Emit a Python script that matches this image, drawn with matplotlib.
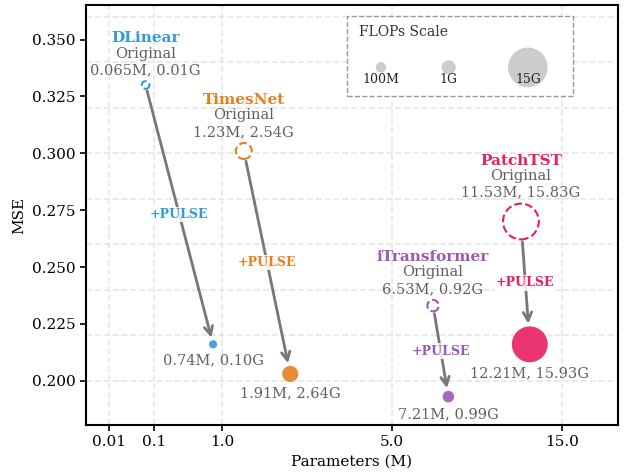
import matplotlib
matplotlib.use('Agg')
import matplotlib.pyplot as plt
from matplotlib.patches import Rectangle
import numpy as np

plt.rcParams['font.family'] = ['DejaVu Serif']

# data
models = ['DLinear', 'TimesNet', 'iTransformer', 'PatchTST']
colors = ['#3498db', '#e67e22', '#9b59b6', '#e91e63']

orig_params = [0.065, 1.23, 6.53, 11.53]
orig_flops = [0.01, 2.54, 0.92, 15.83]
orig_mse = [0.330, 0.301, 0.233, 0.270]

pulse_params = [0.74, 1.91, 7.21, 12.21]
pulse_flops = [0.10, 2.64, 0.99, 15.93]
pulse_mse = [0.216, 0.203, 0.193, 0.216]

x_ticks = [0.01, 0.1, 1.0, 5.0, 15.0]
x_tick_labels = ['0.01', '0.1', '1.0', '5.0', '15.0']
y_ticks = [0.200, 0.225, 0.250, 0.275, 0.300, 0.325, 0.350]

legend_flops = [0.1, 1, 15]
legend_labels = ['100M', '1G', '15G']

# piecewise log axis: each tick interval is log-spaced, intervals have custom widths
tick_pos = np.array([0, 1, 2.5, 6.25, 10])
log_ticks = np.log10(x_ticks)


def fwd(x):
    x = np.asarray(x, dtype=float)
    lx = np.log10(np.clip(x, 1e-9, None))
    y = np.interp(lx, log_ticks, tick_pos)
    s0 = (tick_pos[1] - tick_pos[0]) / (log_ticks[1] - log_ticks[0])
    s1 = (tick_pos[-1] - tick_pos[-2]) / (log_ticks[-1] - log_ticks[-2])
    y = np.where(lx < log_ticks[0], tick_pos[0] + (lx - log_ticks[0]) * s0, y)
    y = np.where(lx > log_ticks[-1], tick_pos[-1] + (lx - log_ticks[-1]) * s1, y)
    return y


def inv(y):
    y = np.asarray(y, dtype=float)
    lx = np.interp(y, tick_pos, log_ticks)
    s0 = (log_ticks[1] - log_ticks[0]) / (tick_pos[1] - tick_pos[0])
    s1 = (log_ticks[-1] - log_ticks[-2]) / (tick_pos[-1] - tick_pos[-2])
    lx = np.where(y < tick_pos[0], log_ticks[0] + (y - tick_pos[0]) * s0, lx)
    lx = np.where(y > tick_pos[-1], log_ticks[-1] + (y - tick_pos[-1]) * s1, lx)
    return 10 ** lx


def msize(flops):
    return 30 + 40 * np.asarray(flops)


fig = plt.figure(figsize=(6.24, 4.76), dpi=100)
ax = fig.add_axes([0.138, 0.107, 0.852, 0.882])
ax.set_xscale('function', functions=(fwd, inv))
ax.set_xlim(float(inv(-0.5)), float(inv(11.24)))
ax.set_ylim(0.1805, 0.3651)

# grid
ax.set_xticks(x_ticks)
ax.set_xticklabels(x_tick_labels)
ax.minorticks_off()
ax.xaxis.grid(True, linestyle='--', color='#e6e6e6', linewidth=1.2, zorder=0)
for yv in np.arange(0.18, 0.3601, 0.02):
    ax.axhline(yv, linestyle='--', color='#e6e6e6', linewidth=1.2, zorder=0)
ax.set_yticks(y_ticks)
ax.set_yticklabels([f'{v:.3f}' for v in y_ticks])
ax.set_axisbelow(True)

gray_txt = '#606060'
for i, name in enumerate(models):
    c = colors[i]
    s_o = msize(orig_flops[i])
    s_p = msize(pulse_flops[i])
    r_o = np.sqrt(s_o) / 2 + 0.75
    r_p = np.sqrt(s_p) / 2

    ax.scatter(orig_params[i], orig_mse[i], s=s_o, facecolors='white', edgecolors=c,
               linestyles='--', linewidths=1.5, zorder=4)
    ax.scatter(pulse_params[i], pulse_mse[i], s=s_p, color=c, alpha=0.9,
               edgecolors='none', zorder=4)

    ax.annotate('', xy=(pulse_params[i], pulse_mse[i]),
                xytext=(orig_params[i], orig_mse[i]),
                arrowprops=dict(arrowstyle='->', color='#777777', lw=2,
                                shrinkA=r_o + 1, shrinkB=r_p + 2, mutation_scale=15),
                zorder=3)

    # midpoint label
    xm = float(inv((fwd(orig_params[i]) + fwd(pulse_params[i])) / 2))
    ym = (orig_mse[i] + pulse_mse[i]) / 2
    ax.text(xm, ym, '+PULSE', color=c, fontsize=9, fontweight='bold',
            ha='center', va='center', zorder=5,
            bbox=dict(boxstyle='square,pad=0.1', fc='white', ec='none', alpha=0.85))

    # labels above original
    base = r_o + 7.2
    ax.annotate(f'{orig_params[i]:g}M, {orig_flops[i]:.2f}G', (orig_params[i], orig_mse[i]),
                xytext=(0, base), textcoords='offset points', ha='center', va='center',
                fontsize=10.5, color=gray_txt, zorder=5)
    ax.annotate('Original', (orig_params[i], orig_mse[i]),
                xytext=(0, base + 11.9), textcoords='offset points', ha='center', va='center',
                fontsize=10.5, color=gray_txt, zorder=5)
    ax.annotate(name, (orig_params[i], orig_mse[i]),
                xytext=(0, base + 23.0), textcoords='offset points', ha='center', va='center',
                fontsize=11, fontweight='bold', color=c, zorder=5)

    # label below pulse
    ax.annotate(f'{pulse_params[i]:g}M, {pulse_flops[i]:.2f}G', (pulse_params[i], pulse_mse[i]),
                xytext=(0, -(r_p + 8.3)), textcoords='offset points', ha='center', va='center',
                fontsize=10.5, color=gray_txt, zorder=5)

# FLOPs scale box
box = Rectangle((0.491, 0.783), 0.424, 0.191, transform=ax.transAxes, facecolor='white',
                edgecolor='#999999', linestyle='--', linewidth=1, zorder=6)
ax.add_patch(box)
ax.text(0.513, 0.936, 'FLOPs Scale', transform=ax.transAxes, ha='left', va='center',
        fontsize=10, color='#333333', zorder=7)
leg_x = [0.5545, 0.682, 0.831]
ax.scatter(leg_x, [0.852] * 3, s=msize(legend_flops) * 1.2, color='#cccccc',
           transform=ax.transAxes, zorder=7, clip_on=False)
for lx, lab in zip(leg_x, legend_labels):
    ax.text(lx, 0.824, lab, transform=ax.transAxes, ha='center', va='center',
            fontsize=9, color='#222222', zorder=8)

ax.set_xlabel('Parameters (M)', fontsize=11)
ax.set_ylabel('MSE', fontsize=11)
ax.tick_params(axis='both', labelsize=11, direction='out', length=4, width=1.2)
for sp in ax.spines.values():
    sp.set_linewidth(1.5)

plt.savefig('out.png', dpi=100)
